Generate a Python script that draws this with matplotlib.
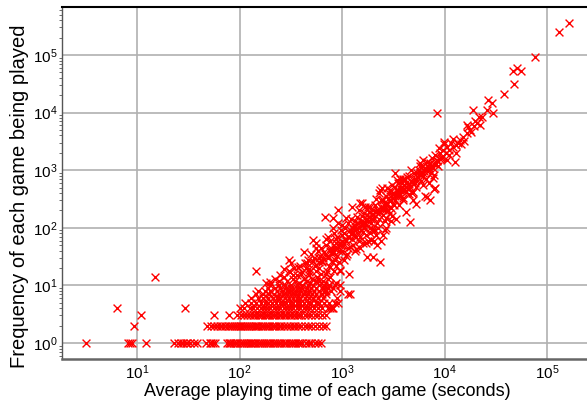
import numpy as np
import matplotlib.pyplot as plt

plt.rcParams["font.family"] = ["Liberation Sans", "DejaVu Sans"]
plt.rcParams["mathtext.fontset"] = "dejavusans"

# games played only a few times: one x list per integer frequency
row_1 = [3.2, 8.2, 8.6, 9.0, 12.3, 23, 25, 27, 28, 30, 31, 33, 36, 38, 47, 51, 53, 55, 57,
         75, 78, 80, 83, 86, 90, 95, 100, 105, 110, 115, 120, 125, 130, 136, 142, 150, 158,
         165, 172, 180, 190, 200, 210, 220, 230, 240, 255, 270, 285, 300, 315, 330, 350, 370,
         390, 410, 440, 470, 500, 540, 580, 620]
row_2 = [9.3, 48, 52, 56, 60, 64, 68, 72, 77, 80, 84, 88, 92, 96, 100, 104, 108, 113, 118,
         123, 128, 134, 140, 146, 152, 160, 168, 176, 185, 195, 205, 215, 225, 240, 255, 270,
         290, 310, 330, 350, 375, 400, 430, 460, 500, 540, 600, 650, 700]
row_3 = [11, 56, 78, 95, 102, 110, 118, 126, 134, 142, 150, 158, 166, 175, 185, 195, 205, 216,
         228, 240, 255, 270, 285, 300, 320, 340, 360, 380, 400, 430, 460, 500, 540, 580, 640, 700]
row_4 = [6.4, 29, 100, 110, 125, 135, 148, 160, 172, 185, 200, 215, 230, 250, 270, 290, 310,
         335, 360, 390, 420, 450, 490, 530, 580, 640, 720, 760, 800, 820]
row_5 = [112, 130, 145, 160, 175, 190, 205, 225, 245, 265, 285, 310, 335, 360, 390, 420, 460,
         500, 550, 600, 660, 740, 850, 920]
row_6 = [130, 150, 170, 190, 210, 230, 250, 275, 300, 330, 360, 390, 430, 470, 520, 580, 650, 900]
row_7 = [145, 170, 195, 215, 240, 265, 290, 320, 350, 380, 420, 460, 510, 560, 620, 700, 1130, 1200]
row_8 = [150, 175, 200, 230, 260, 290, 320, 355, 390, 430, 480, 530, 600, 680, 780, 950]
row_9 = [190, 220, 250, 285, 320, 360, 400, 450, 500, 560, 640, 720]
row_10 = [200, 240, 280, 320, 360, 410, 460, 520, 590, 660, 750, 850, 960]

# the rising band of more popular games: (seconds, frequency)
band_x = [15, 145, 220, 180, 240, 250, 200,
          270, 290, 300, 310, 330, 340, 360, 380, 390, 270, 350, 400, 320,
          420, 440, 460, 480, 500, 520, 540, 560, 580, 600, 450, 470, 510, 530, 550, 570,
          590, 610, 430, 490, 420, 600, 560,
          620, 640, 660, 680, 700, 720, 740, 760, 780, 800, 820, 840, 860, 880, 900, 920,
          940, 960, 980, 1000, 650, 690, 710, 730, 750, 770, 790, 810, 830, 850, 870, 890,
          910, 930, 970, 990, 760, 620, 660, 700, 880, 720, 820, 950, 640,
          1050, 1100, 1150, 1180, 1200, 1250, 1300, 1350, 1400, 1450, 1500, 1550, 1600,
          1650, 1700, 1750, 1800, 1850, 1900, 1950, 2000, 1050, 1100, 1150, 1200, 1250,
          1300, 1350, 1400, 1450, 1500, 1550, 1600, 1650, 1700, 1750, 1800, 1850, 1900,
          1950, 1000, 1070, 1120, 1180, 1220, 1280, 1330, 1380, 1430, 1480, 1530, 1580,
          1630, 1680, 1720, 1780, 1830, 1880, 1930, 1980, 1560,
          2050, 2100, 2200, 2250, 2300, 2350, 2350, 2400, 2450, 2500, 2550, 2600, 2650,
          2700, 2750, 2800, 2900, 3000, 3100, 3200, 3300, 3400, 3500, 3600, 3700, 3800,
          3900, 4000, 2100, 2200, 2300, 2400, 2500, 2600, 2700, 2800, 2900, 3000, 3100,
          3200, 3300, 3400, 3500, 3600, 3700, 3800, 3900, 4000, 2050, 2150, 2250, 2450,
          2650, 2850, 3050, 3250, 3450, 3650, 3850, 2200, 2600, 3000, 2500,
          4200, 4300, 4500, 4600, 4600, 4700, 4900, 5000, 5200, 5400, 5600, 5800, 5800,
          6000, 6200, 6400, 6800, 6800, 7000, 7200, 7200, 7500, 7800, 7800, 8000, 8500,
          8500, 9000, 9500, 9800, 9800, 4400, 4800, 5100, 5500, 5900, 6300, 6600, 6900,
          7300, 7700, 8200, 8700, 9200, 4200, 4500, 5300, 6100, 7000, 8900, 9600, 4100,
          4700, 5700,
          10500, 10500, 11000, 11500, 12000, 12500, 13000, 13500, 14000, 15000, 15500,
          16500, 16500, 17000, 18000, 19000, 20500, 21700, 22000, 23000, 26000, 26500,
          29000, 29500, 11000, 12000, 13000, 10200, 14500, 17500, 19500, 20000,
          38000, 46000, 47000, 50500, 56000, 76000, 131000, 164000,
          # extra density inside the band
          300, 330, 370, 410, 450, 480, 520, 560, 600, 640, 680, 720, 760, 800, 850, 900,
          950, 1000, 1060, 1130, 1210, 1290, 1370, 1460, 1550, 1650, 1760, 1870, 1990,
          2120, 2260, 2400, 2560, 2720, 2900, 3080, 3280, 3500, 3720, 3960, 4220, 4500,
          4780, 5100, 5430, 5780, 6150, 6550, 6980, 7430, 7900, 8400, 8950, 9500,
          560, 700, 880, 1100, 1380, 1720, 2150, 2700, 3350, 4200, 5200, 6500, 8100,
          650, 820, 1020, 1280, 1600, 2000, 2500, 3150, 3950, 4950, 6200, 7700]
band_y = [14, 18, 13, 11, 12, 15, 11.5,
          14, 12, 28, 17, 13, 20, 15, 11, 22, 19, 12, 16, 24,
          13, 20, 28, 15, 35, 62, 22, 18, 40, 25, 12, 17, 13, 30, 45, 14,
          20, 32, 24, 11, 38, 12, 55,
          16, 25, 38, 155, 50, 30, 22, 60, 45, 35, 148, 80, 28, 55, 70, 200,
          40, 18, 90, 112, 12, 8, 18, 70, 10, 14, 26, 100, 18, 42, 65, 32,
          120, 25, 50, 75, 21, 45, 9, 65, 11, 13, 9, 18.5, 7,
          28, 60, 45, 16, 90, 230, 75, 130, 155, 60, 270, 110, 85,
          180, 140, 31, 230, 100, 62, 170, 31, 80, 150, 120, 47, 65,
          110, 40, 95, 200, 70, 160, 55, 120, 75, 167, 130, 80, 140,
          95, 40, 100, 35, 70, 140, 50, 90, 70, 120, 45, 90, 130,
          100, 230, 110, 60, 190, 230, 120, 200, 270,
          150, 250, 120, 180, 400, 25, 450, 300, 490, 167, 220, 130, 350,
          260, 490, 200, 450, 300, 380, 250, 890, 680, 420, 350, 500, 600,
          300, 450, 90, 200, 140, 60, 300, 200, 150, 320, 180, 220, 550,
          400, 300, 450, 600, 250, 380, 450, 700, 550, 60, 310, 100, 220,
          250, 400, 160, 520, 350, 700, 520, 50, 90, 130, 75,
          600, 760, 800, 125, 510, 650, 300, 900, 700, 890, 1000, 1200, 1330,
          1200, 800, 1100, 340, 1400, 1000, 300, 1330, 1600, 470, 830, 1800, 9800,
          1500, 2000, 1700, 2900, 3100, 500, 400, 600, 750, 650, 950, 700, 1200,
          900, 1100, 1300, 1200, 1600, 420, 380, 520, 1500, 600, 2400, 2200, 700,
          1000, 900,
          1500, 2500, 2250, 3000, 2550, 1400, 2000, 3000, 3350, 3800, 3200,
          4400, 6100, 5600, 4600, 11000, 6600, 8500, 6100, 8500, 11000, 16700,
          14700, 9800, 1800, 3500, 2700, 2000, 2800, 5000, 5800, 7200,
          21000, 52000, 31000, 59000, 52000, 92000, 250000, 360000,
          18, 15, 21, 17, 24, 19, 27, 23, 30, 27, 35, 33, 40, 38, 46, 44,
          52, 58, 63, 70, 78, 86, 95, 104, 115, 126, 140, 155, 170,
          186, 205, 225, 245, 270, 295, 325, 355, 390, 430, 470, 520, 570,
          620, 680, 750, 820, 900, 990, 1080, 1180, 1300, 1420, 1560, 1700,
          12, 16, 22, 32, 42, 55, 75, 100, 140, 190, 260, 360, 500,
          30, 40, 50, 95, 110, 90, 200, 260, 330, 420, 560, 730]

x_ticks = [1e1, 1e2, 1e3, 1e4, 1e5]
y_ticks = [1e0, 1e1, 1e2, 1e3, 1e4, 1e5]

rows = [row_1, row_2, row_3, row_4, row_5, row_6, row_7, row_8, row_9, row_10]
xs = list(band_x)
ys = list(band_y)
for freq, row in enumerate(rows, start=1):
    xs += row
    ys += [freq] * len(row)

fig = plt.figure(figsize=(5.87, 4.0), dpi=100)
ax = fig.add_axes([0.1056, 0.1025, 0.9046, 0.88])
ax.scatter(xs, ys, marker="x", color="#ff0000", s=32, linewidths=1.0, zorder=3)
ax.set_xscale("log")
ax.set_yscale("log")
ax.set_xticks(x_ticks)
ax.set_yticks(y_ticks)
ax.set_xlim(1.85, 2.8e5)
ax.set_ylim(0.527, 6.8e5)
ax.grid(True, which="major", color="#b0b0b0", linewidth=1.2, zorder=0)

ax.spines["top"].set_color("black")
ax.spines["top"].set_linewidth(1.5)
ax.spines["bottom"].set_color("#666666")
ax.spines["bottom"].set_linewidth(1.8)
ax.spines["left"].set_color("#555555")
ax.spines["left"].set_linewidth(1.0)
ax.spines["right"].set_visible(False)

ax.tick_params(which="major", length=0, labelsize=11, pad=3)
ax.tick_params(axis="x", which="minor", length=0, labelbottom=False)
ax.tick_params(axis="y", which="minor", length=2, width=0.6, color="#555555", labelleft=False)

ax.set_xlabel("Average playing time of each game (seconds)", fontsize=13, labelpad=1)
ax.set_ylabel("Frequency of each game being played", fontsize=14.5)
ax.yaxis.set_label_coords(-0.062, 0.463)

fig.savefig("out.png", dpi=100)
